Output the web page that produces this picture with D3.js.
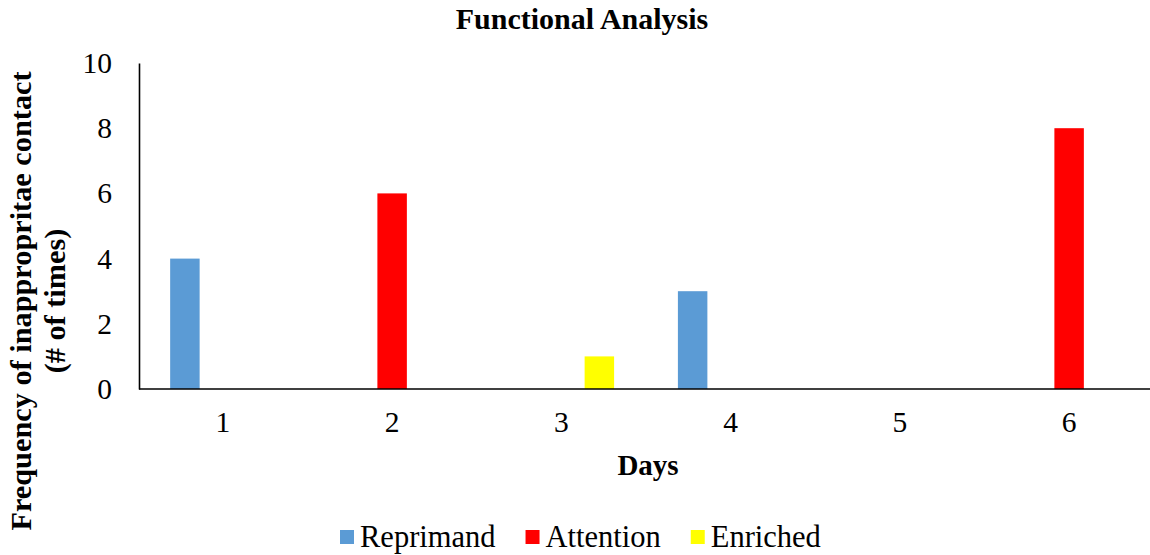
<!DOCTYPE html>
<html>
<head>
<meta charset="utf-8">
<script src="https://cdn.jsdelivr.net/npm/d3@7/dist/d3.min.js"></script>
<style>
  html, body { margin: 0; padding: 0; background: #fff; }
  svg { display: block; }
  svg text { font-family: "Liberation Serif", "Times New Roman", Times, serif !important; fill: #000; }
</style>
</head>
<body>
<svg id="chart" width="1150" height="555"></svg>
<script>
const days = ["1", "2", "3", "4", "5", "6"];
const seriesNames = ["Reprimand", "Attention", "Enriched"];
const reprimand = [4, 0, 0, 3, 0, 0];
const attention = [0, 6, 0, 0, 0, 8];
const enriched = [0, 0, 1, 0, 0, 0];
const seriesColors = ["#5B9BD5", "#FF0000", "#FFFF00"];
const yTicks = [0, 2, 4, 6, 8, 10];

const seriesValues = [reprimand, attention, enriched];
const svg = d3.select("#chart");

const plotLeft = 139, plotTop = 63, plotBottom = 389;

const x0 = d3.scaleBand().domain(days).range([138, 1154])
  .paddingInner(0.377).paddingOuter(0.19);
const x1 = d3.scaleBand().domain(seriesNames).range([0, x0.bandwidth()])
  .paddingInner(0.224).paddingOuter(0);
const y = d3.scaleLinear().domain([0, 10]).range([plotBottom, plotTop]);
const color = d3.scaleOrdinal().domain(seriesNames).range(seriesColors);

// Title
svg.append("text")
  .attr("x", 582).attr("y", 29)
  .attr("text-anchor", "middle")
  .style("font-size", "30px").style("font-weight", "bold")
  .text("Functional Analysis");

// Bars
const rows = days.map((d, i) => ({
  day: d,
  vals: seriesNames.map((s, j) => ({ key: s, value: seriesValues[j][i] }))
}));
const groups = svg.append("g").selectAll("g").data(rows).join("g")
  .attr("transform", d => `translate(${x0(d.day)},0)`);
groups.selectAll("rect").data(d => d.vals.filter(v => v.value > 0)).join("rect")
  .attr("x", d => x1(d.key))
  .attr("width", x1.bandwidth())
  .attr("y", d => y(d.value))
  .attr("height", d => y(0) - y(d.value))
  .attr("fill", d => color(d.key));

// Y axis
const yAxis = svg.append("g")
  .attr("transform", `translate(${plotLeft},0)`)
  .call(d3.axisLeft(y).tickValues(yTicks).tickSize(0).tickPadding(27).tickFormat(d3.format("d")));
yAxis.attr("font-family", null);
yAxis.select(".domain").attr("stroke", "#000").attr("stroke-width", 1.6);
yAxis.selectAll("text").style("font-size", "29.5px").attr("fill", "#000");

// X axis
const xAxis = svg.append("g")
  .attr("transform", `translate(0,${plotBottom})`)
  .call(d3.axisBottom(x0).tickSize(0).tickPadding(22));
xAxis.attr("font-family", null);
xAxis.select(".domain").attr("stroke", "#000").attr("stroke-width", 1.6)
  .attr("d", `M${plotLeft},0H1150`);
xAxis.selectAll("text").style("font-size", "29.5px").attr("fill", "#000");

// Axis titles
svg.append("text")
  .attr("x", 648).attr("y", 475)
  .attr("text-anchor", "middle")
  .style("font-size", "29px").style("font-weight", "bold")
  .text("Days");

const yTitle = svg.append("text")
  .attr("transform", "translate(31,301) rotate(-90)")
  .attr("text-anchor", "middle")
  .style("font-size", "30.3px").style("font-weight", "bold");
yTitle.append("tspan").attr("x", 0).attr("dy", 0).text("Frequency of inappropritae contact");
yTitle.append("tspan").attr("x", 0).attr("dy", 34).text("(# of times)");

// Legend
const legend = svg.append("g").attr("transform", "translate(340,537)");
let lx = 0;
seriesNames.forEach((s, i) => {
  const g = legend.append("g").attr("transform", `translate(${lx},0)`);
  g.append("rect").attr("x", 0).attr("y", -7).attr("width", 14).attr("height", 14)
    .attr("fill", color(s));
  const t = g.append("text").attr("x", 20).attr("y", 10)
    .style("font-size", "30.5px").text(s);
  const w = t.node().getComputedTextLength();
  lx += 20 + w + 30;
});
</script>
</body>
</html>
